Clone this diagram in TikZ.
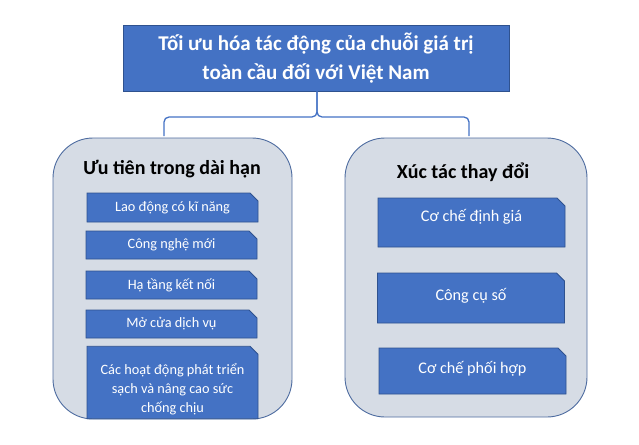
\documentclass[tikz,border=0pt]{standalone}
\usepackage{fontspec}
\setmainfont{Carlito}
\usetikzlibrary{shapes.misc}
\definecolor{mainblue}{HTML}{4472C4}
\definecolor{edgeblue}{HTML}{2F528F}
\definecolor{panelgray}{HTML}{D6DCE5}
\tikzset{
  topbox/.style={rectangle, fill=mainblue, draw=edgeblue, line width=0.9pt, text=white,
    font=\fontsize{21}{29}\selectfont\bfseries, align=center, inner sep=0pt},
  panel/.style={rectangle, rounded corners=40pt, fill=panelgray, draw=edgeblue!85, line width=0.9pt, inner sep=0pt},
  paneltitle/.style={font=\fontsize{20}{22}\selectfont\bfseries, text=black, inner sep=0pt},
  itembox/.style={chamfered rectangle, chamfered rectangle corners=north east,
    chamfered rectangle xsep=4pt, chamfered rectangle ysep=4pt,
    fill=mainblue, draw=edgeblue, line width=0.8pt, text=white, align=center, inner sep=0pt},
  leftitem/.style={itembox, minimum width=171pt, font=\fontsize{14.3}{19}\selectfont},
  rightitem/.style={itembox, minimum width=187pt, font=\fontsize{16.2}{19}\selectfont},
  bracket/.style={draw=mainblue, line width=1.3pt, rounded corners=5pt},
}
\begin{document}
\begin{tikzpicture}[x=1pt, y=-1pt]
\useasboundingbox (0,0) rectangle (639,444);
% panels
\node[panel, minimum width=239pt, minimum height=281pt] (lp) at (172.5,278.5) {};
\node[panel, minimum width=242pt, minimum height=279pt] (rp) at (466,277.5) {};
% top box and bracket
\node[topbox, minimum width=386pt, minimum height=66pt] (top) at (316,58)
  {Tối ưu hóa tác động của chuỗi giá trị\\toàn cầu đối với Việt Nam};
\coordinate (la) at (164,136);
\coordinate (ra) at (469,136);
\draw[bracket] (la) -- (164,117) -- (317,117) -- (top.south -| 317,0);
\draw[bracket] (ra) -- (469,117) -- (317,117) -- (top.south -| 317,0);
% titles
\node[paneltitle] (lt) at (172,169) {Ưu tiên trong dài hạn};
\node[paneltitle] (rt) at (463,172) {Xúc tác thay đổi};
% left items
\node[leftitem, minimum height=29pt] (l1) at (172.5,207.5) {Lao động có kĩ năng};
\node[leftitem, minimum height=28pt] (l2) at (171.5,245) {Công nghệ mới};
\node[leftitem, minimum height=28pt] (l3) at (171.5,285) {Hạ tầng kết nối};
\node[leftitem, minimum height=28pt] (l4) at (171.5,324) {Mở cửa dịch vụ};
\node[leftitem, minimum height=69pt] (l5) at (172.5,382.5) {\rule{0pt}{24pt}Các hoạt động phát triển\\sạch và nâng cao sức\\chống chịu};
% right items
\node[rightitem, minimum height=49pt, text depth=14pt] (r1) at (471.5,222.5) {Cơ chế định giá};
\node[rightitem, minimum height=50pt, text depth=8pt] (r2) at (471,298) {Công cụ số};
\node[rightitem, minimum height=46pt, text depth=8pt] (r3) at (472.5,371) {Cơ chế phối hợp};
\end{tikzpicture}
\end{document}
